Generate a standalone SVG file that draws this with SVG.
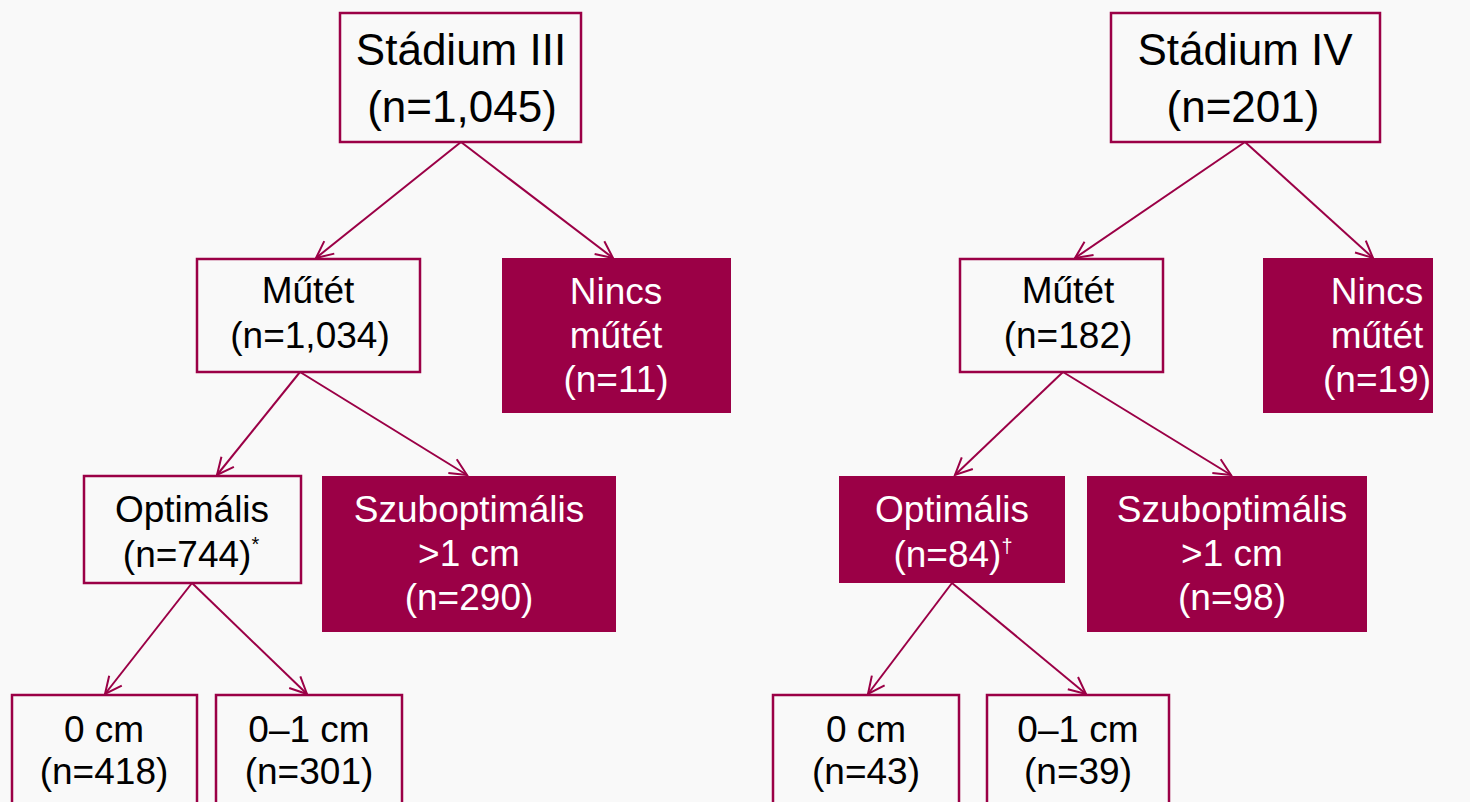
<svg xmlns="http://www.w3.org/2000/svg" width="1470" height="802" viewBox="0 0 1470 802">
<defs>
<style>
.bg{fill:#f9f9f9}
.ob{fill:#f9f9f9;stroke:#9b0046;stroke-width:2.5}
.fb{fill:#9b0046;stroke:none}
.t{font-family:"Liberation Sans",Arial,sans-serif;text-anchor:middle;fill:#000}
.w{fill:#fff}
.big{font-size:44px}
.m{font-size:37px}
.sup{font-size:20px}
.c{stroke:#9b0046;stroke-width:2;fill:none}
</style>
<marker id="arr" markerUnits="userSpaceOnUse" markerWidth="22" markerHeight="22" refX="18" refY="9" orient="auto" viewBox="0 0 22 18">
<path d="M1,1 L18,9 L1,17" fill="none" stroke="#9b0046" stroke-width="2"/>
</marker>
</defs>
<rect class="bg" x="0" y="0" width="1470" height="802"/>

<g id="connectors">
<line class="c" x1="461" y1="142" x2="316" y2="258" marker-end="url(#arr)"/>
<line class="c" x1="461" y1="142" x2="613" y2="258" marker-end="url(#arr)"/>
<line class="c" x1="1245" y1="142" x2="1075" y2="258" marker-end="url(#arr)"/>
<line class="c" x1="1245" y1="142" x2="1373" y2="258" marker-end="url(#arr)"/>
<line class="c" x1="300" y1="372" x2="217" y2="475" marker-end="url(#arr)"/>
<line class="c" x1="300" y1="372" x2="467" y2="475" marker-end="url(#arr)"/>
<line class="c" x1="1063" y1="372" x2="955" y2="475" marker-end="url(#arr)"/>
<line class="c" x1="1063" y1="372" x2="1231" y2="475" marker-end="url(#arr)"/>
<line class="c" x1="192" y1="583" x2="105" y2="694" marker-end="url(#arr)"/>
<line class="c" x1="192" y1="583" x2="307" y2="694" marker-end="url(#arr)"/>
<line class="c" x1="952" y1="583" x2="868" y2="694" marker-end="url(#arr)"/>
<line class="c" x1="952" y1="583" x2="1086" y2="694" marker-end="url(#arr)"/>
</g>

<g id="stadium3">
<rect class="ob" x="340" y="13" width="241" height="129"/>
<text class="t big" x="461" y="65">Stádium III</text>
<text class="t big" x="462" y="122">(n=1,045)</text>
</g>
<g id="stadium4">
<rect class="ob" x="1111" y="13" width="269" height="129"/>
<text class="t big" x="1245" y="65">Stádium IV</text>
<text class="t big" x="1243" y="122">(n=201)</text>
</g>

<g id="mutet3">
<rect class="ob" x="197" y="259" width="223" height="113"/>
<text class="t m" x="308" y="303">Műtét</text>
<text class="t m" x="310" y="348">(n=1,034)</text>
</g>
<g id="nincs3">
<rect class="fb" x="502" y="258" width="229" height="155"/>
<text class="t m w" x="616" y="304">Nincs</text>
<text class="t m w" x="616" y="348">műtét</text>
<text class="t m w" x="616" y="392">(n=11)</text>
</g>
<g id="mutet4">
<rect class="ob" x="960" y="259" width="203" height="113"/>
<text class="t m" x="1068" y="303">Műtét</text>
<text class="t m" x="1068" y="348">(n=182)</text>
</g>
<g id="nincs4">
<rect class="fb" x="1263" y="258" width="170" height="155"/>
<text class="t m w" x="1377" y="304">Nincs</text>
<text class="t m w" x="1377" y="348">műtét</text>
<text class="t m w" x="1377" y="392">(n=19)</text>
</g>

<g id="opt3">
<rect class="ob" x="84" y="476" width="217" height="107"/>
<text class="t m" x="192" y="522">Optimális</text>
<text class="t m" x="191" y="567">(n=744)<tspan class="sup" dy="-16">*</tspan></text>
</g>
<g id="szub3">
<rect class="fb" x="322" y="476" width="294" height="156"/>
<text class="t m w" x="469" y="522">Szuboptimális</text>
<text class="t m w" x="469" y="566">&gt;1 cm</text>
<text class="t m w" x="469" y="610">(n=290)</text>
</g>
<g id="opt4">
<rect class="fb" x="839" y="476" width="226" height="107"/>
<text class="t m w" x="952" y="522">Optimális</text>
<text class="t m w" x="953" y="567">(n=84)<tspan class="sup" dy="-14">†</tspan></text>
</g>
<g id="szub4">
<rect class="fb" x="1087" y="476" width="280" height="156"/>
<text class="t m w" x="1232" y="522">Szuboptimális</text>
<text class="t m w" x="1232" y="566">&gt;1 cm</text>
<text class="t m w" x="1232" y="610">(n=98)</text>
</g>

<g id="cm0_3">
<rect class="ob" x="12" y="695" width="185" height="120"/>
<text class="t m" x="104" y="742">0 cm</text>
<text class="t m" x="104" y="784">(n=418)</text>
</g>
<g id="cm01_3">
<rect class="ob" x="216" y="695" width="186" height="120"/>
<text class="t m" x="309" y="742">0–1 cm</text>
<text class="t m" x="309" y="784">(n=301)</text>
</g>
<g id="cm0_4">
<rect class="ob" x="773" y="695" width="186" height="120"/>
<text class="t m" x="866" y="742">0 cm</text>
<text class="t m" x="866" y="784">(n=43)</text>
</g>
<g id="cm01_4">
<rect class="ob" x="987" y="695" width="182" height="120"/>
<text class="t m" x="1078" y="742">0–1 cm</text>
<text class="t m" x="1078" y="784">(n=39)</text>
</g>
</svg>
